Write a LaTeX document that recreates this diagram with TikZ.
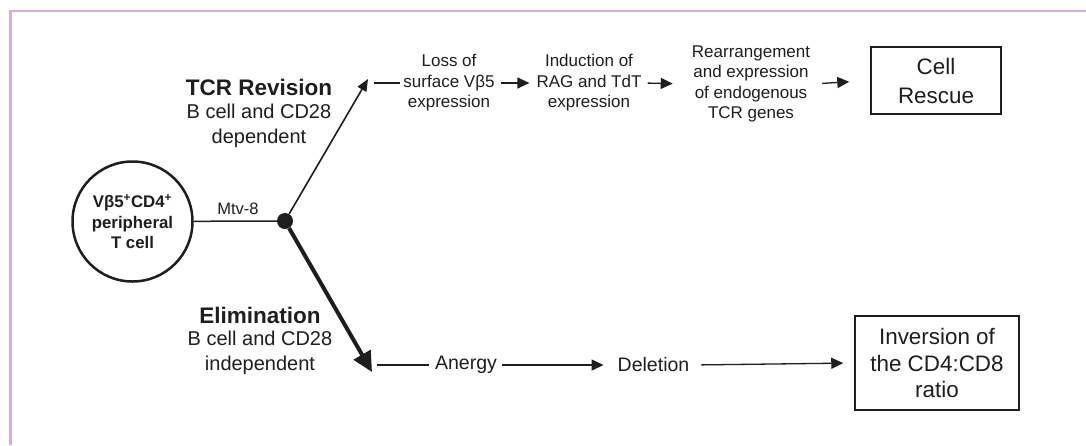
\documentclass[tikz,border=0pt]{standalone}
\usepackage{fontspec}
\setmainfont{Liberation Sans}
\usetikzlibrary{arrows.meta}
\definecolor{framecol}{RGB}{216,170,212}
\definecolor{ink}{RGB}{30,30,30}
\tikzset{
  txt/.style={inner sep=2pt, align=center, text=ink},
  rowtxt/.style={txt, font=\fontsize{17}{20.5}\selectfont},
  lowtxt/.style={txt, font=\fontsize{19.5}{23}\selectfont},
  headtxt/.style={txt, font=\bfseries\fontsize{22.5}{26}\selectfont},
  subtxt/.style={txt, font=\fontsize{20}{24.5}\selectfont},
  boxtxt/.style={txt, draw=ink, line width=1.5pt},
  flow/.style={draw=ink, line width=1.3pt, -{Triangle[length=12pt,width=11pt]}},
  plain/.style={draw=ink, line width=1.3pt},
}
\begin{document}
\begin{tikzpicture}[x=1pt,y=-1pt]
\useasboundingbox (0,0) rectangle (1086,445);
\fill[white] (0,0) rectangle (1086,445);
% frame
\draw[framecol, line width=2.5pt] (10.7,445) -- (10.7,11) -- (1086,11);

% cell
\node[circle, draw=ink, line width=2.5pt, minimum size=120pt, inner sep=0pt,
      align=center, text=ink, font=\bfseries\fontsize{16.8}{20.5}\selectfont]
      (cell) at (132.5,221.5) {Vβ5\textsuperscript{+}CD4\textsuperscript{+}\\peripheral\\T cell};
\node[circle, fill=ink, inner sep=0pt, minimum size=16pt] (dot) at (285,221) {};
\node[txt, font=\fontsize{16.5}{20}\selectfont] (mtv) at (238,209) {Mtv-8};
\draw[plain, line width=1.5pt] (cell) -- (dot);

% upper branch
\coordinate (uptip) at (368,79);
\draw[draw=ink, line width=1.6pt, -{Triangle[length=12pt,width=10pt]}] (dot) -- (uptip);
\node[headtxt] (tcr) at (259,87) {TCR Revision};
\node[subtxt] (tcrsub) at (259,126) {B cell and CD28\\dependent};

\node[rowtxt] (loss) at (449,83) {Loss of\\surface Vβ5\\expression};
\node[rowtxt] (ind) at (589,83) {Induction of\\RAG and TdT\\expression};
\node[rowtxt] (rearr) at (751,84) {Rearrangement\\and expression\\of endogenous\\TCR genes};
\node[boxtxt, minimum width=130pt, minimum height=67pt,
      font=\fontsize{22.4}{29}\selectfont] (rescue) at (936,80.5) {Cell\\Rescue};

\coordinate (dashstart) at (374,83);
\draw[plain, line width=1.1pt, shorten >=1pt] (dashstart) -- (loss.west);
\draw[flow, shorten <=4pt, shorten >=5pt] (loss.east) -- (ind.west);
\draw[flow, shorten <=4pt, shorten >=17pt] (ind.east) -- (rearr.west);
\draw[flow, shorten <=10pt, shorten >=21pt] (rearr.east) -- (rescue.west);

% lower branch
\coordinate (lowtip) at (372,372);
\draw[draw=ink, line width=4pt, -{Triangle[length=20pt,width=19pt]}] (dot) -- (lowtip);
\node[headtxt] (elim) at (260,315) {Elimination};
\node[subtxt] (elimsub) at (260,353) {B cell and CD28\\independent};

\node[lowtxt] (anergy) at (466,365) {Anergy};
\node[lowtxt] (deletion) at (653.5,365) {Deletion};
\node[boxtxt, minimum width=164pt, minimum height=94pt,
      font=\fontsize{22.4}{26.5}\selectfont] (inv) at (937,363) {Inversion of\\the CD4:CD8\\ratio};

\coordinate (lowstart) at (377,365);
\draw[plain, shorten >=4pt] (lowstart) -- (anergy.west);
\draw[flow, shorten <=3pt, shorten >=12pt] (anergy.east) -- (deletion.west);
\draw[flow, shorten <=10pt, shorten >=11pt] (deletion.east) -- (inv.west);
\end{tikzpicture}
\end{document}
